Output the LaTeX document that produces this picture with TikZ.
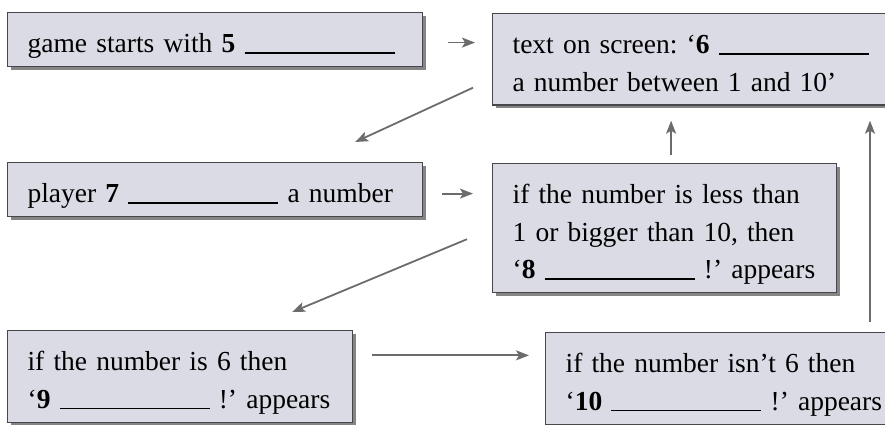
\documentclass[tikz,border=0pt]{standalone}
\usepackage{fontspec}
\setmainfont{Liberation Serif}
\usetikzlibrary{arrows.meta,shadows}

\definecolor{boxfill}{RGB}{219,219,230}
\definecolor{boxline}{RGB}{70,70,75}
\definecolor{arrowgray}{RGB}{108,108,108}
\newcommand{\blank}{\rule[-1pt]{150pt}{1.5pt}}

\tikzset{
  box/.style={draw=boxline, line width=1.2pt, fill=boxfill, anchor=north west,
    align=left, inner xsep=20pt, inner ysep=0pt, text height=40pt,
    font=\fontsize{27.5}{37.5}\selectfont\frenchspacing,
    drop shadow={shadow xshift=3pt, shadow yshift=-3pt, fill=black!60, opacity=0.8}},
  flow/.style={-{Stealth[length=13pt,width=10pt,inset=3pt]}, line width=1.8pt, draw=arrowgray},
}

\begin{document}
\begin{tikzpicture}[x=1pt, y=-1pt]
    \useasboundingbox (0,0) rectangle (885,425);

    % Boxes
    \node[box, text width=375pt, text depth=14pt] (start) at (7,12) {game starts with \textbf{5} \blank};
    \node[box, text width=375pt, text depth=51.5pt] (screen) at (492,13) {text on screen: `\textbf{6} \blank\\a number between 1 and 10'};
    \node[box, text width=375pt, text depth=14pt] (guess) at (7,162) {player \textbf{7} \blank{} a number};
    \node[box, text width=304pt, text depth=89pt] (check) at (492,163) {if the number is less than\\1 or bigger than 10, then\\`\textbf{8} \blank{} !' appears};
    \node[box, text width=305pt, text depth=51.5pt] (hit) at (7,330) {if the number is 6 then\\`\textbf{9} \blank{} !' appears};
    \node[box, text width=330pt, text depth=51.5pt] (miss) at (545,332) {if the number isn't 6 then\\`\textbf{10} \blank{} !' appears};

    % Arrows
    \coordinate (a1) at ([shift={(25,3)}]start.east);
    \draw[flow, shorten >=17pt] (a1) -- (a1 -| screen.west);
    \draw[flow] ([shift={(-19,-18)}]screen.south west) -- ([shift={(-68,-20)}]guess.north east);
    \coordinate (a3) at ([shift={(19,4)}]guess.east);
    \draw[flow, shorten >=19pt] (a3) -- (a3 -| check.west);
    \draw[flow] ([shift={(-25,-54)}]check.south west) -- ([shift={(-61,-18)}]hit.north east);
    \coordinate (a5) at ([shift={(19,-21)}]hit.east);
    \draw[flow, shorten >=16pt] (a5) -- (a5 -| miss.west);
    \coordinate (a6) at ([shift={(6.5,-8)}]check.north);
    \draw[flow, shorten >=15pt] (a6) -- (a6 |- screen.south);
    \coordinate (a7) at ([shift={(325,-10)}]miss.north west);
    \draw[flow, shorten >=15pt] (a7) -- (a7 |- screen.south);
\end{tikzpicture}
\end{document}
